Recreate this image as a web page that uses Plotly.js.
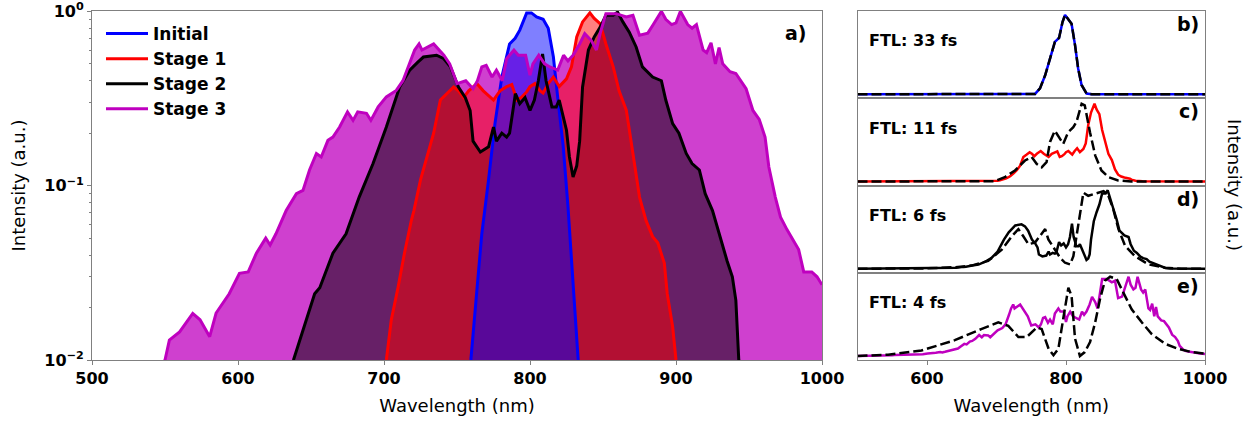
<!DOCTYPE html>
<html>
<head>
<meta charset="utf-8">
<script src="https://cdn.plot.ly/plotly-3.0.1.min.js"></script>
<style>html,body{margin:0;padding:0;background:#fff}#chart{width:1251px;height:421px}</style>
</head>
<body>
<div id="chart"></div>
<script>
// ---------- DATA ----------
const seriesNames = ["Initial", "Stage 1", "Stage 2", "Stage 3"];

const wlInitial = [500,700,745,759.5,763.6,767,771.6,776,780.7,786,789.8,793,797.7,801,804.5,809,812.5,816,819,822.7,826,829.5,833,845,900,1000];
const intInitial = [0.0003,0.0008,0.003,0.01,0.025,0.053,0.108,0.227,0.42,0.65,0.70,0.78,0.98,0.98,0.93,0.90,0.80,0.55,0.32,0.17,0.076,0.0275,0.01,0.003,0.0008,0.0003];

const wlStage1 = [500,690,701.6,705,709.6,714,718.7,720.5,725,729.5,734,738.6,743,747.7,751,754.5,758,763.6,768,775,779.5,784,787.5,791,794,797.7,800,803.4,807,809,812.5,816,820,825,828.4,832,836,841,844,848,852,857,861,866,870.5,875,879.5,884,887.5,892,894,897.7,900,910,1000];
const intStage1 = [0.0005,0.004,0.01,0.017,0.026,0.041,0.063,0.072,0.108,0.146,0.2,0.31,0.337,0.368,0.35,0.32,0.35,0.385,0.35,0.31,0.35,0.37,0.38,0.31,0.32,0.345,0.37,0.385,0.35,0.34,0.385,0.42,0.37,0.41,0.48,0.713,0.87,0.98,0.91,0.85,0.65,0.48,0.35,0.27,0.153,0.086,0.063,0.051,0.047,0.036,0.024,0.0155,0.01,0.004,0.0005];

const wlStage2 = [500,620,638,642,652.5,656,665,674,683,692.5,701.6,710.7,717.6,723,727,736,741,745.5,751,755.7,759,761,766,771.6,775,777,780.7,784,786,790,793,796.6,800,803,805.7,808.6,811,815,818,820,825,827,829.5,832,834,836,840,844,848,852,857,860,863.6,868,872.7,877,884,890,893,897.7,902,907,911,916,920,925,930.7,935,938.6,941,943,950,1000];
const intStage2 = [0.0005,0.004,0.01,0.0127,0.024,0.026,0.041,0.053,0.086,0.134,0.217,0.368,0.46,0.51,0.547,0.56,0.535,0.48,0.368,0.32,0.27,0.18,0.156,0.167,0.217,0.18,0.2,0.19,0.2,0.337,0.295,0.32,0.27,0.31,0.40,0.57,0.40,0.283,0.283,0.31,0.208,0.146,0.112,0.13,0.18,0.368,0.6,0.713,0.81,0.95,0.95,0.99,0.87,0.76,0.625,0.48,0.42,0.40,0.31,0.227,0.2,0.153,0.134,0.123,0.090,0.072,0.049,0.037,0.030,0.022,0.01,0.004,0.0005];

const wlStage3 = [500,520,540,550,553,560,569,574,580.6,585,594,601,607,612.6,619,622,626,633,640,644.5,649,653.7,657,661.6,665,669.6,675,678.8,682,688,691,696,701.6,708.4,713,718,721,724,726,734,741,745,750,756,761,764,767,770,774,777,781,784,789,792,797,800,802,806,810,813.6,819,823,826,829.5,834,837.5,842,845.5,848,852,859,866,870.5,875,880.7,884,890,893,897,900,903,908,911,914,918.6,921,924,927,929.5,932,937,941,945,948,952.7,957,961,963.6,968,971.6,976,979.5,984,987.5,993,996.6,1000];
const intStage3 = [0.001,0.002,0.005,0.01,0.013,0.0145,0.0185,0.017,0.0136,0.0186,0.024,0.0314,0.032,0.041,0.050,0.0457,0.053,0.072,0.090,0.094,0.123,0.153,0.146,0.182,0.19,0.217,0.265,0.237,0.265,0.26,0.237,0.283,0.323,0.352,0.40,0.52,0.6,0.65,0.6,0.65,0.56,0.5,0.385,0.40,0.36,0.40,0.48,0.49,0.42,0.46,0.40,0.535,0.6,0.56,0.56,0.43,0.50,0.56,0.50,0.48,0.46,0.56,0.52,0.56,0.65,0.745,0.68,0.6,0.745,0.97,0.97,0.93,0.95,0.73,0.75,0.83,1.0,0.9,0.84,0.86,1.0,0.84,0.8,0.84,0.6,0.58,0.66,0.5,0.62,0.5,0.45,0.44,0.39,0.36,0.27,0.24,0.19,0.128,0.086,0.066,0.056,0.050,0.043,0.032,0.032,0.030,0.027];

// panel b: measured initial spectrum and its FTL-related trace coincide
const wlPanelB = [500,740,755.5,762.6,770,777,784,790,795,798.6,803,808,813,817.5,822.4,829.6,837,1000];
const intPanelB = [0,0,0.005,0.075,0.24,0.45,0.66,0.71,0.91,1.0,0.95,0.89,0.62,0.325,0.117,0.01,0,0];

// dashed (FTL-related) spectra in panels c-e
const wlDashC = [500,690,697.8,712,726.6,741,750.6,758,765,772,777,784,791.5,796,803,810.5,815,822.5,827,834.5,842,851,861,875,894,1000];
const intDashC = [0,0,0.005,0.055,0.14,0.265,0.31,0.22,0.18,0.245,0.50,0.64,0.54,0.475,0.62,0.685,0.75,0.98,0.96,0.62,0.33,0.14,0.055,0.013,0,0];

const wlDashD = [500,600,640,664,688,707.6,722,731.5,738.6,746,755.4,765,770,774.6,784,791.5,798.6,806,810.6,818,825,832,839.5,846.6,854,861,868,875.5,885,899,918.5,942.5,966,1000];
const intDashD = [0,0.005,0.02,0.04,0.1,0.24,0.41,0.50,0.41,0.31,0.33,0.45,0.50,0.37,0.24,0.14,0.076,0.055,0.16,0.58,0.96,0.92,0.94,0.96,0.98,0.92,0.75,0.5,0.29,0.16,0.055,0.013,0,0];

const wlDashE = [500,506,544,592,640,678,702.6,717,731.5,743.5,758,765,775,782,789,796,803.4,808,813,820,827,834.6,842,849,856,863.5,873,882.5,894.5,909,923,942.5,961.6,980.7,1000];
const intDashE = [0,0.002,0.017,0.07,0.2,0.34,0.425,0.38,0.24,0.24,0.36,0.34,0.09,0.01,0.09,0.47,0.86,0.76,0.22,0.0,0.05,0.175,0.425,0.72,0.95,1.0,0.97,0.8,0.59,0.425,0.28,0.154,0.09,0.05,0.03];

const panelLabels = ["a)", "b)", "c)", "d)", "e)"];
const ftlLabels = ["FTL: 33 fs", "FTL: 11 fs", "FTL: 6 fs", "FTL: 4 fs"];
const mainXTicks = [500, 600, 700, 800, 900, 1000];
const mainYTicks = [0.01, 0.1, 1];
const mainYTickText = ["10<sup>\u22122</sup>", "10<sup>\u22121</sup>", "10<sup>0</sup>"];
const minorYTicks = [0.02,0.03,0.04,0.05,0.06,0.07,0.08,0.09,0.2,0.3,0.4,0.5,0.6,0.7,0.8,0.9];
const sideXTicks = [600, 800, 1000];

// ---------- STYLE ----------
const W = 1251, H = 421;
const FONT = "DejaVu Sans";
const lineColors = ["#0000ff", "#ff0000", "#000000", "#bf00bf"];
const fillColors = ["rgba(0,0,255,0.5)", "rgba(255,0,0,0.5)", "rgba(0,0,0,0.5)", "rgba(191,0,191,0.75)"];
const SPINE = "#808080";
const FLOOR = 1e-4;

const wls = [wlInitial, wlStage1, wlStage2, wlStage3];
const ints = [intInitial, intStage1, intStage2, intStage3];
const sideSolidW = [wlPanelB, wlStage1, wlStage2, wlStage3];
const sideSolidI = [intPanelB, intStage1, intStage2, intStage3];
const dashW = [wlPanelB, wlDashC, wlDashD, wlDashE];
const dashI = [intPanelB, intDashC, intDashD, intDashE];

const px = v => v / W;          // pixel -> paper x
const py = v => 1 - v / H;      // pixel -> paper y

const traces = [];
// fills: Stage 3 at bottom ... Initial on top
for (let i = 3; i >= 0; i--) {
  const x = wls[i], y = ints[i];
  traces.push({
    x: x.concat(x.slice().reverse()),
    y: y.concat(x.map(() => FLOOR)),
    type: "scatter", mode: "lines", fill: "toself",
    fillcolor: fillColors[i], line: {width: 0}, hoverinfo: "skip",
    showlegend: false, xaxis: "x", yaxis: "y"
  });
}
// lines with legend
for (let i = 0; i < 4; i++) {
  traces.push({
    x: wls[i], y: ints[i], type: "scatter", mode: "lines", name: seriesNames[i],
    line: {color: lineColors[i], width: 3}, xaxis: "x", yaxis: "y"
  });
}
// side panels
for (let i = 0; i < 4; i++) {
  const ax = String(i + 2);
  traces.push({
    x: sideSolidW[i], y: sideSolidI[i], type: "scatter", mode: "lines", showlegend: false,
    line: {color: lineColors[i], width: 2.5}, xaxis: "x" + ax, yaxis: "y" + ax
  });
  traces.push({
    x: dashW[i], y: dashI[i], type: "scatter", mode: "lines", showlegend: false,
    line: {color: "#000000", width: 2.5, dash: "10px,4px"}, xaxis: "x" + ax, yaxis: "y" + ax
  });
}

const tickFont = {family: FONT, size: 16, color: "#000", weight: "bold"};
const titleFont = {family: FONT, size: 18, color: "#000"};

const layout = {
  width: W, height: H,
  margin: {l: 0, r: 0, t: 0, b: 0},
  paper_bgcolor: "#fff", plot_bgcolor: "#fff",
  font: {family: FONT, color: "#000"},
  showlegend: true,
  legend: {
    x: px(101), y: py(16), xanchor: "left", yanchor: "top",
    bgcolor: "rgba(0,0,0,0)", borderwidth: 0, itemwidth: 42,
    font: {family: FONT, size: 17, color: "#000", weight: "bold"},
    tracegroupgap: 0
  },
  xaxis: {
    domain: [px(92), px(822)], range: [500, 1000], anchor: "y",
    tickvals: mainXTicks, ticks: "outside", ticklen: 4, tickcolor: SPINE,
    showline: true, mirror: true, linecolor: SPINE, linewidth: 1,
    showgrid: false, zeroline: false, tickfont: tickFont, automargin: false,
    title: {text: "Wavelength (nm)", font: titleFont, standoff: 12}
  },
  yaxis: {
    domain: [py(360), py(11)], type: "log", range: [-2, 0.002], anchor: "x",
    tickmode: "array", tickvals: mainYTicks, ticktext: mainYTickText,
    ticks: "outside", ticklen: 4, tickcolor: SPINE, ticklabeloverflow: "allow",
    minor: {tickmode: "array", tickvals: minorYTicks, ticks: "outside", ticklen: 2, tickcolor: SPINE, showgrid: false},
    showline: true, mirror: true, linecolor: SPINE, linewidth: 1,
    showgrid: false, zeroline: false, tickfont: tickFont, automargin: false,
    title: {text: "Intensity (a.u.)", font: titleFont, standoff: 14}
  },
  annotations: [],
};

const panelTop = 11, panelBottom = 360, nP = 4;
const ph = (panelBottom - panelTop) / nP;
for (let i = 0; i < nP; i++) {
  const ax = String(i + 2);
  const top = panelTop + i * ph, bot = top + ph;
  const last = i === nP - 1;
  const xa = {
    domain: [px(857.5), px(1205)], range: [500, 1000], anchor: "y" + ax,
    showline: true, mirror: true, linecolor: SPINE, linewidth: 1,
    showgrid: false, zeroline: false, automargin: false
  };
  if (last) {
    Object.assign(xa, {
      tickvals: sideXTicks, ticks: "outside", ticklen: 4, tickcolor: SPINE,
      showticklabels: true, tickfont: tickFont,
      title: {text: "Wavelength (nm)", font: titleFont, standoff: 12}
    });
  } else {
    Object.assign(xa, {ticks: "", showticklabels: false});
  }
  layout["xaxis" + ax] = xa;
  layout["yaxis" + ax] = {
    domain: [py(bot), py(top)], range: [-0.05, 1.05], anchor: "x" + ax,
    showticklabels: false, ticks: "",
    showline: true, mirror: true, linecolor: SPINE, linewidth: 1,
    showgrid: false, zeroline: false, automargin: false
  };
  layout.annotations.push({
    text: ftlLabels[i], xref: "paper", yref: "paper", x: px(867), y: py(top + 30),
    xanchor: "left", yanchor: "middle", showarrow: false,
    font: {family: FONT, size: 16, color: "#000", weight: "bold"}
  });
  layout.annotations.push({
    text: panelLabels[i + 1], xref: "paper", yref: "paper", x: px(1201), y: py(top + 13),
    xanchor: "right", yanchor: "middle", showarrow: false,
    font: {family: FONT, size: 19, color: "#000", weight: "bold"}
  });
}
layout.annotations.push({
  text: panelLabels[0], xref: "paper", yref: "paper", x: px(809), y: py(33),
  xanchor: "right", yanchor: "middle", showarrow: false,
  font: {family: FONT, size: 19, color: "#000", weight: "bold"}
});
layout.annotations.push({
  text: "Intensity (a.u.)", xref: "paper", yref: "paper", x: px(1235), y: py(185),
  xanchor: "center", yanchor: "middle", textangle: 90, showarrow: false,
  font: titleFont
});

Plotly.newPlot("chart", traces, layout, {displayModeBar: false, staticPlot: true});
</script>
</body>
</html>
